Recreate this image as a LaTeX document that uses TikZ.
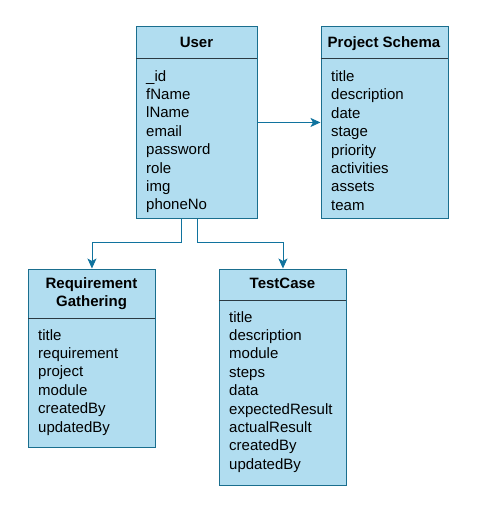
\documentclass[tikz,border=0pt]{standalone}
\usepackage{fontspec}
\setmainfont{Liberation Sans}
\definecolor{ERfill}{HTML}{B1DDF0}
\definecolor{ERline}{HTML}{1A6E8E}
\definecolor{ERsep}{HTML}{2B3A42}
\definecolor{ERlink}{HTML}{10739E}
\usetikzlibrary{arrows.meta, positioning}

\begin{document}
\begin{tikzpicture}[x=1pt, y=-1pt,
   box/.style={draw=ERline, fill=ERfill, line width=0.9pt, inner sep=0pt, anchor=north west},
   head/.style={font=\fontsize{15}{18}\selectfont\bfseries, anchor=base, inner sep=0pt, align=center},
   field/.style={font=\fontsize{15}{18}\selectfont, anchor=base west, inner sep=0pt},
   link/.style={draw=ERlink, line width=0.9pt, -{Stealth[length=10pt, width=9pt, inset=2.5pt]}}
]
   \useasboundingbox (0,0) rectangle (491,509);

   % class boxes
   \node[box, minimum width=121pt, minimum height=192pt] (user) at (136,26) {};
   \node[box, minimum width=127pt, minimum height=192pt] (project) at (320.5,26) {};
   \node[box, minimum width=127pt, minimum height=178pt] (req) at (28,268.5) {};
   \node[box, minimum width=127pt, minimum height=216.5pt] (test) at (219,268.5) {};

   % header lines
   \draw[ERsep, line width=0.9pt] (136,58.3) -- (257,58.3);
   \draw[ERsep, line width=0.9pt] (320.5,58.3) -- (447.5,58.3);
   \draw[ERsep, line width=0.9pt] (28,318.3) -- (155,318.3);
   \draw[ERsep, line width=0.9pt] (219,300) -- (346,300);

   % titles (base of a two-line title is its last line)
   \node[head] (user-title) at (196.5,47) {User};
   \node[head] (project-title) at (384,47) {Project Schema};
   \node[head] (req-title) at (91.5,306) {Requirement\\Gathering};
   \node[head] (test-title) at (282.5,288) {TestCase};

   % fields
   \foreach \f [count=\i] in {\_id, fName, lName, email, password, role, img, phoneNo}
      \node[field] (user-\i) at (146,81+18.4*\i-18.4) {\f};
   \foreach \f [count=\i] in {title, description, date, stage, priority, activities, assets, team}
      \node[field] (project-\i) at (331,81.5+18.4*\i-18.4) {\f};
   \foreach \f [count=\i] in {title, requirement, project, module, createdBy, updatedBy}
      \node[field] (req-\i) at (38,340+18.4*\i-18.4) {\f};
   \foreach \f [count=\i] in {title, description, module, steps, data, expectedResult, actualResult, createdBy, updatedBy}
      \node[field] (test-\i) at (229,322+18.4*\i-18.4) {\f};

   % relations
   \draw[link] (user.east) -- (project.west);
   \draw[link] ([xshift=-15.6pt]user.south) -- ++(0,24) -| (req.north);
   \draw[link] (user.south) -- ++(0,24) -| (test.north);
\end{tikzpicture}
\end{document}
